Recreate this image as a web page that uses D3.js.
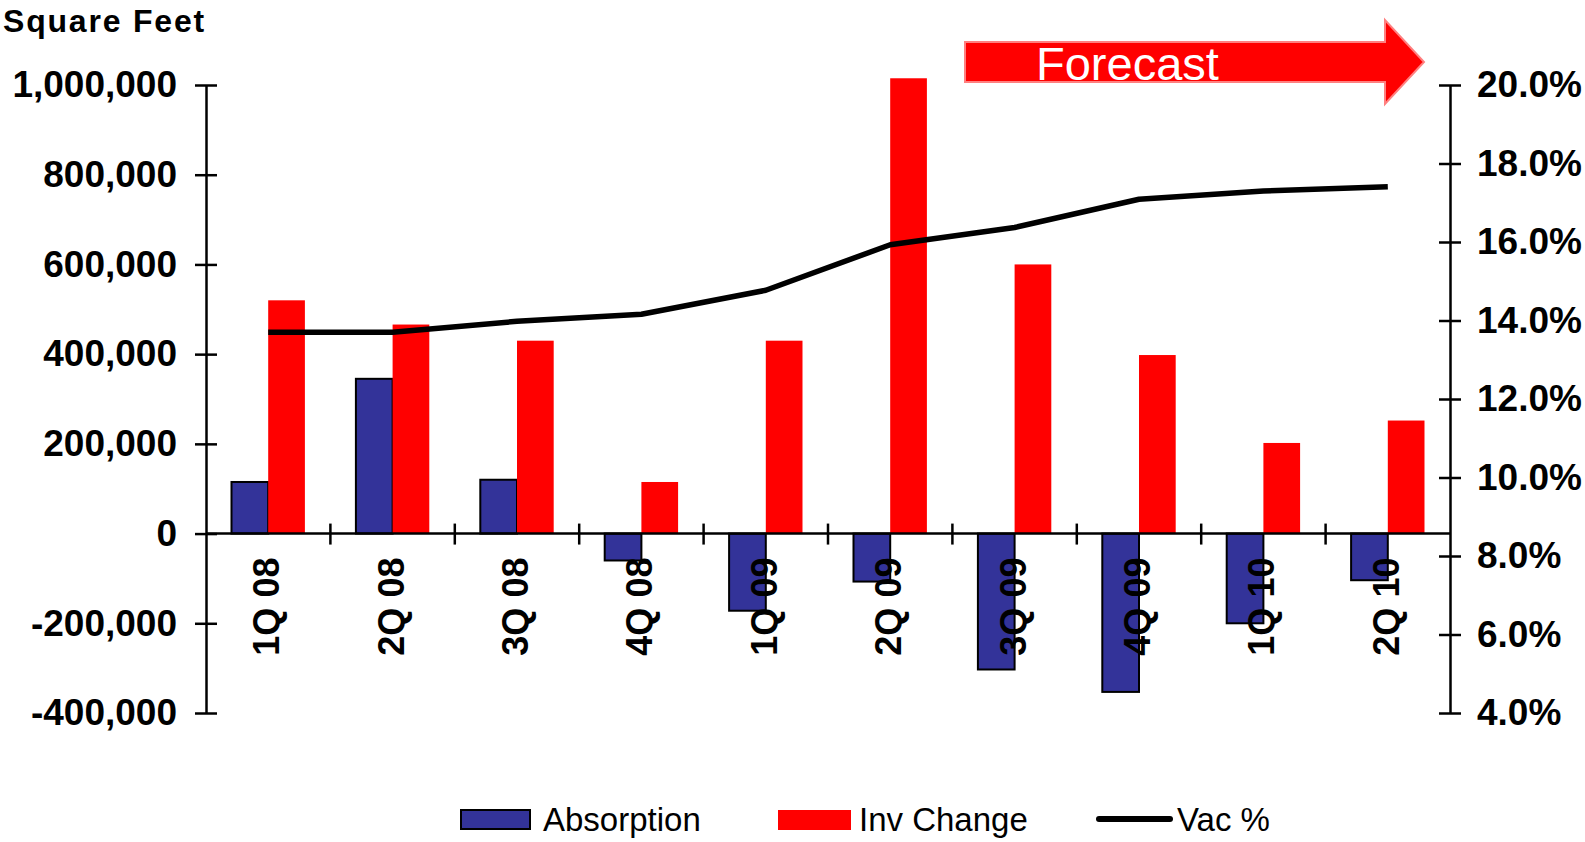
<!DOCTYPE html>
<html>
<head>
<meta charset="utf-8">
<script src="https://cdn.jsdelivr.net/npm/d3@7"></script>
<style>
  html, body { margin: 0; padding: 0; background: #fff; }
  svg { display: block; font-family: "Liberation Sans", Arial, sans-serif; }
</style>
</head>
<body>
<svg id="chart" width="1585" height="842"></svg>
<script>
// Quarterly office market data
const quarters = ["1Q 08", "2Q 08", "3Q 08", "4Q 08", "1Q 09", "2Q 09", "3Q 09", "4Q 09", "1Q 10", "2Q 10"];
const absorption = [115000, 345000, 120000, -60000, -172000, -107000, -303000, -353000, -200000, -104000];
const invChange = [520000, 466000, 430000, 115000, 430000, 1015000, 600000, 398000, 202000, 252000];
const vacancy = [13.7, 13.7, 13.98, 14.16, 14.77, 15.93, 16.37, 17.09, 17.3, 17.41];

const leftTicks = [-400000, -200000, 0, 200000, 400000, 600000, 800000, 1000000];
const rightTicks = [4, 6, 8, 10, 12, 14, 16, 18, 20];
const seriesNames = ["Absorption", "Inv Change", "Vac %"];

const BLUE = "#333399", RED = "#ff0000";

// Number format with a plain hyphen for negatives
const locale = d3.formatLocale({ decimal: ".", thousands: ",", grouping: [3], currency: ["$", ""], minus: "-" });
const fmtSqft = locale.format(",");
const fmtPct = locale.format(".1f");

const svg = d3.select("#chart");
const plot = { left: 206, right: 1450, top: 85, bottom: 713 };

const x0 = d3.scaleBand().domain(quarters).range([plot.left, plot.right]).padding(0);
const x1 = d3.scaleBand().domain(["abs", "inv"]).range([0, x0.bandwidth()])
  .paddingInner(0).paddingOuter(0.695);
const y = d3.scaleLinear().domain([-400000, 1000000]).range([plot.bottom, plot.top]);
const y2 = d3.scaleLinear().domain([4, 20]).range([plot.bottom, plot.top]);

// Axis label: square feet
svg.append("text")
  .attr("x", 3).attr("y", 32)
  .attr("font-size", 32).attr("font-weight", "bold")
  .attr("letter-spacing", "1.8px")
  .text("Square Feet");

// Bars
const groups = svg.append("g").selectAll("g").data(quarters).join("g")
  .attr("transform", d => `translate(${x0(d)},0)`);

groups.append("rect")
  .attr("x", x1("abs")).attr("width", x1.bandwidth())
  .attr("y", (d, i) => y(Math.max(0, absorption[i])))
  .attr("height", (d, i) => Math.abs(y(absorption[i]) - y(0)))
  .attr("fill", BLUE).attr("stroke", "#000").attr("stroke-width", 2);

groups.append("rect")
  .attr("x", x1("inv")).attr("width", x1.bandwidth())
  .attr("y", (d, i) => y(Math.max(0, invChange[i])))
  .attr("height", (d, i) => Math.abs(y(invChange[i]) - y(0)))
  .attr("fill", RED);

// Left axis
const leftAxis = d3.axisLeft(y).tickValues(leftTicks)
  .tickFormat(fmtSqft).tickSize(0).tickPadding(29);
const gl = svg.append("g").attr("transform", `translate(${plot.left},0)`).call(leftAxis);
gl.select(".domain").attr("stroke", "#000").attr("stroke-width", 2.5);
gl.selectAll(".tick text").attr("font-size", 37).attr("font-weight", "bold")
  .attr("fill", "#000").attr("font-family", "Liberation Sans, Arial, sans-serif");
gl.selectAll(".tick").append("line").attr("x1", -11).attr("x2", 11)
  .attr("stroke", "#000").attr("stroke-width", 2.5);

// Right axis
const rightAxis = d3.axisRight(y2).tickValues(rightTicks)
  .tickFormat(d => fmtPct(d) + "%").tickSize(0).tickPadding(27);
const gr = svg.append("g").attr("transform", `translate(${plot.right},0)`).call(rightAxis);
gr.select(".domain").attr("stroke", "#000").attr("stroke-width", 2.5);
gr.selectAll(".tick text").attr("font-size", 37).attr("font-weight", "bold")
  .attr("fill", "#000").attr("font-family", "Liberation Sans, Arial, sans-serif");
gr.selectAll(".tick").append("line").attr("x1", -11).attr("x2", 11)
  .attr("stroke", "#000").attr("stroke-width", 2.5);

// Zero baseline with category ticks
svg.append("line")
  .attr("x1", plot.left).attr("x2", plot.right)
  .attr("y1", y(0)).attr("y2", y(0))
  .attr("stroke", "#000").attr("stroke-width", 2.5);
svg.append("g").selectAll("line").data(quarters.slice(1)).join("line")
  .attr("x1", d => x0(d)).attr("x2", d => x0(d))
  .attr("y1", y(0) - 10).attr("y2", y(0) + 11)
  .attr("stroke", "#000").attr("stroke-width", 2.5);

// Category labels, rotated
svg.append("g").selectAll("text").data(quarters).join("text")
  .attr("transform", d => `translate(${x0(d) + x0.bandwidth() / 2 + 11},${y(0) + 24}) rotate(-90)`)
  .attr("text-anchor", "end")
  .attr("font-size", 36).attr("font-weight", "bold")
  .text(d => d);

// Vacancy line
const line = d3.line()
  .x((d, i) => x0(quarters[i]) + x0.bandwidth() / 2)
  .y(d => y2(d));
svg.append("path").datum(vacancy)
  .attr("d", line).attr("fill", "none")
  .attr("stroke", "#000").attr("stroke-width", 5.5)
  .attr("stroke-linejoin", "round");

// Forecast arrow
const ax = { x0: 965, xh: 1385, tip: 1424, bodyTop: 42, bodyBot: 82, headTop: 20, headBot: 104 };
const midY = (ax.headTop + ax.headBot) / 2;
const arrowPts = [
  [ax.x0, ax.bodyTop], [ax.xh, ax.bodyTop], [ax.xh, ax.headTop], [ax.tip, midY],
  [ax.xh, ax.headBot], [ax.xh, ax.bodyBot], [ax.x0, ax.bodyBot]
];
svg.append("polygon")
  .attr("points", arrowPts.map(p => p.join(",")).join(" "))
  .attr("fill", RED).attr("stroke", "#ff8080").attr("stroke-width", 2);
svg.append("text")
  .attr("x", 1036).attr("y", 80)
  .attr("font-size", 47).attr("fill", "#fff")
  .text("Forecast");

// Legend
const legend = svg.append("g");
legend.append("rect").attr("x", 461).attr("y", 810).attr("width", 69).attr("height", 19)
  .attr("fill", BLUE).attr("stroke", "#000").attr("stroke-width", 2);
legend.append("text").attr("x", 543).attr("y", 831).attr("font-size", 33).text(seriesNames[0]);
legend.append("rect").attr("x", 778).attr("y", 810).attr("width", 73).attr("height", 20)
  .attr("fill", RED);
legend.append("text").attr("x", 859).attr("y", 831).attr("font-size", 33).text(seriesNames[1]);
legend.append("line").attr("x1", 1099).attr("x2", 1170).attr("y1", 819).attr("y2", 819)
  .attr("stroke", "#000").attr("stroke-width", 6).attr("stroke-linecap", "round");
legend.append("text").attr("x", 1177).attr("y", 831).attr("font-size", 33).text(seriesNames[2]);
</script>
</body>
</html>
